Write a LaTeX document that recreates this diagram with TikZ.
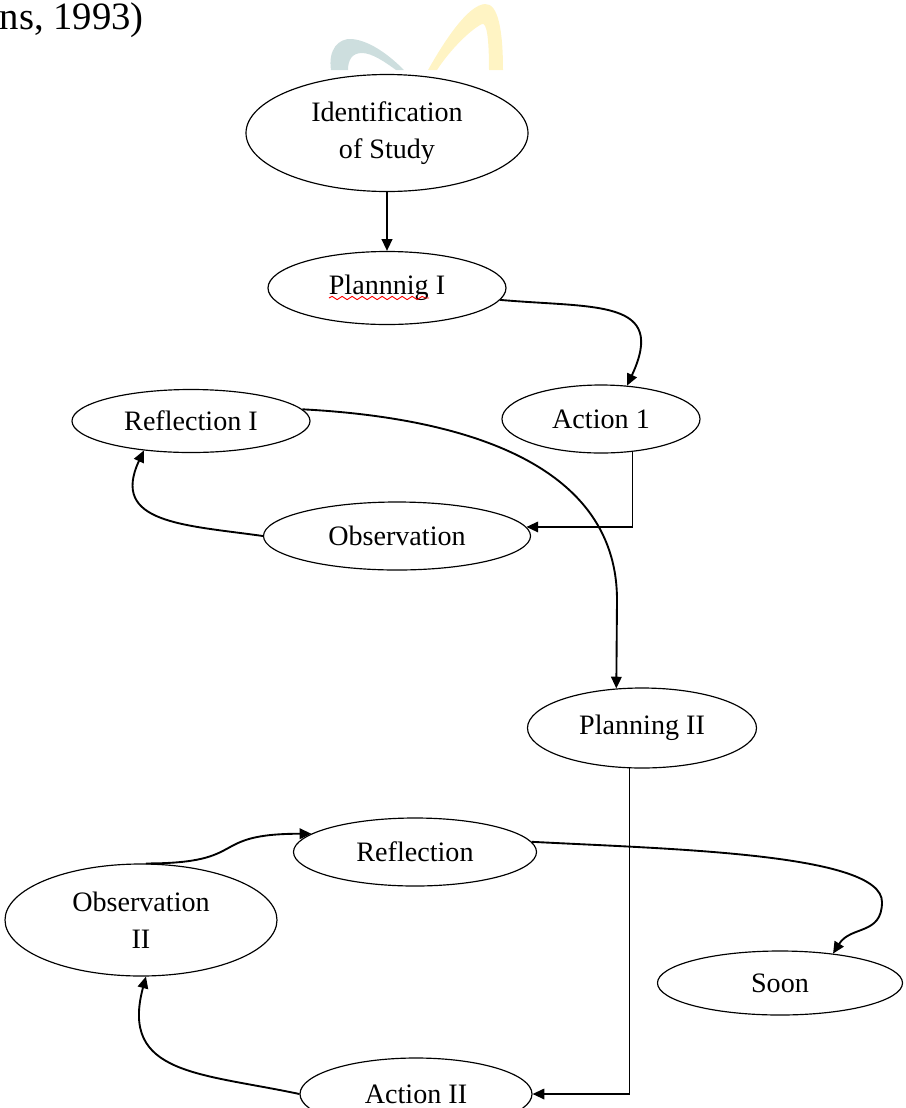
\documentclass[tikz,border=0pt]{standalone}
\usepackage{fontspec}
\setmainfont{Liberation Serif}
\usetikzlibrary{arrows.meta,shapes.geometric,calc,decorations.pathmorphing}

\newcommand{\pxu}{0.015cm}
\definecolor{markteal}{RGB}{205,222,222}
\definecolor{markyellow}{RGB}{255,244,196}

\begin{document}
\begin{tikzpicture}[x=\pxu, y=-\pxu, ->, >={Triangle[length=5pt,width=4.5pt]}, line width=0.8pt,
	stage/.style 2 args={ellipse, draw, line width=0.5pt, inner sep=0pt, align=center,
		minimum width=#1*\pxu, minimum height=#2*\pxu, font=\fontsize{12}{16}\selectfont},
	elbow/.style={line width=0.7pt}]
	\useasboundingbox (0,0) rectangle (906,1108);

	% Faint logo behind the top
	\fill[markteal, -] (331,70) .. controls (328,50) and (338,38) .. (352,39)
		.. controls (372,41) and (392,58) .. (404,70) -- (396,70)
		.. controls (385,62) and (372,53) .. (362,53)
		.. controls (352,53) and (348,60) .. (348,70) -- cycle;
	\fill[markyellow, -] (428,70) .. controls (445,40) and (468,5) .. (485,4)
		.. controls (498,3) and (503,30) .. (503,70) -- (489,70)
		.. controls (489,40) and (487,22) .. (482,24)
		.. controls (470,30) and (450,50) .. (437,70) -- cycle;
	\node[anchor=base west, inner sep=0pt, font=\fontsize{16.5}{18}\selectfont] (src) at (-1,29) {ns, 1993)};

	% Stages of the cycle
	\node[stage={282}{117}] (ident) at (387,133) {Identification\\of Study};
	\node[stage={238}{73}] (plan1) at (387,288) {Plannnig I};
	\node[stage={198}{68}] (act1) at (601,419) {Action 1};
	\node[stage={238}{63}] (refl1) at (191,421) {Reflection I};
	\node[stage={267}{68}] (obs1) at (397,536) {Observation};
	\node[stage={229}{80}] (plan2) at (642,728) {Planning II};
	\node[stage={243}{68}] (refl2) at (415,852) {Reflection};
	\node[stage={272}{112}] (obs2) at (141,920) {Observation\\II};
	\node[stage={245}{64}] (soon) at (780,983) {Soon};
	\node[stage={232}{72}] (act2) at (416,1094) {Action II};

	% Spell-check squiggle under the first planning label
	\draw[-, red, line width=0.4pt, decorate, decoration={snake, segment length=10*\pxu, amplitude=0.7pt}]
		($(plan1.center)+(-58,10)$) -- ++(100,0);

	% Straight and elbow connectors
	\path (ident) edge (plan1);
	\draw[elbow] (act1.-46) |- (obs1.4);
	\draw[elbow] (plan2.-107) |- (act2.east);

	% Curved connectors
	\path (plan1.-6) edge[out=-5, in=65, looseness=1.6] (act1.52);
	\path (obs1.west) edge[out=172, in=245, looseness=1.4] (refl1.212);
	\coordinate (drop) at (617,600);
	\draw (refl1.6) to[out=-3, in=90] (drop) -- (plan2.123);
	\path (act2.west) edge[out=168, in=255, looseness=1.35] (obs2.-85);
	\path (obs2.85) edge[out=0, in=180, looseness=1.6] (refl2.170);
	\coordinate (swing) at (882,902);
	\draw (refl2.5) to[out=-3, in=90, in looseness=0.35] (swing) to[out=-90, in=58, looseness=1.2] (soon.29);
\end{tikzpicture}
\end{document}
